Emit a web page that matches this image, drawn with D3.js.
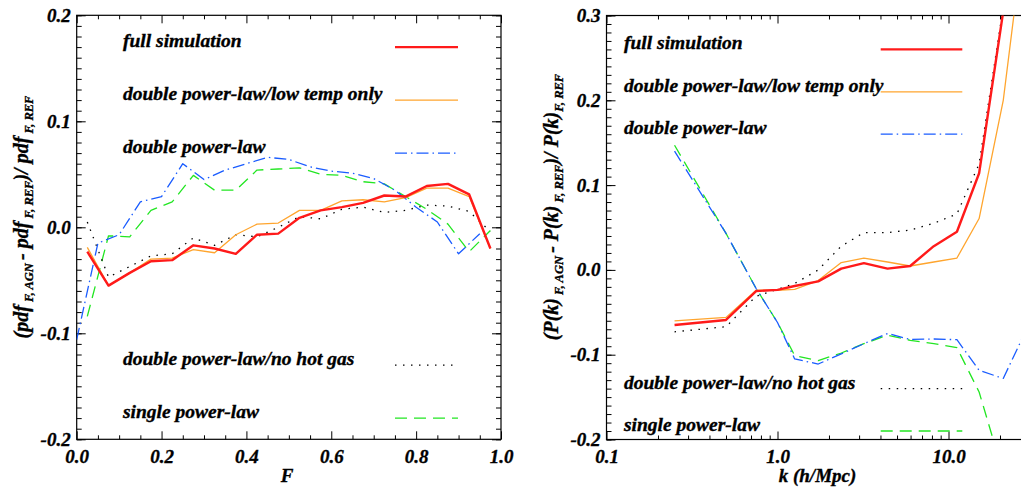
<!DOCTYPE html>
<html>
<head>
<meta charset="utf-8">
<script src="https://cdn.jsdelivr.net/npm/d3@7"></script>
<style>
  body { margin: 0; background: #fff; }
  svg text { font-family: "Liberation Serif", "Times New Roman", serif; font-weight: bold; font-style: italic; fill: #000; stroke: #000; stroke-width: 0.35px; }
</style>
</head>
<body>
<script>
// ---- data: left panel (flux pdf residuals) ----
var fBins    = [0.025, 0.075, 0.125, 0.175, 0.225, 0.275, 0.325, 0.375, 0.425, 0.475,
                0.525, 0.575, 0.625, 0.675, 0.725, 0.775, 0.825, 0.875, 0.925, 0.975];
var fBinsDpl = [0.00, 0.05, 0.10, 0.15, 0.20, 0.25, 0.30, 0.35, 0.40, 0.45,
                0.50, 0.55, 0.60, 0.65, 0.70, 0.75, 0.80, 0.85, 0.90, 0.95];

var pdfFull    = [-0.023, -0.055, -0.043, -0.032, -0.031, -0.017, -0.020, -0.025, -0.007, -0.006,
                   0.009,  0.016,  0.019,  0.023,  0.030,  0.029,  0.039,  0.041,  0.031, -0.020];
var pdfLowTemp = [-0.019, -0.055, -0.043, -0.030, -0.029, -0.021, -0.024, -0.007,  0.003,  0.004,
                   0.016,  0.016,  0.025,  0.026,  0.024,  0.028,  0.037,  0.037,  0.029, -0.020];
var pdfDpl     = [-0.106, -0.015, -0.007,  0.024,  0.029,  0.060,  0.045,  0.054,  0.060,  0.066,
                   0.064,  0.057,  0.053,  0.051,  0.046,  0.035,  0.019,  0.005, -0.025, -0.006];
var pdfNoHot   = [ 0.005, -0.047, -0.037, -0.027, -0.025, -0.010, -0.017, -0.007, -0.009,  0.000,
                   0.010,  0.008,  0.017,  0.019,  0.014,  0.016,  0.021,  0.020,  0.015, -0.004];
var pdfSingle  = [-0.084, -0.008, -0.009,  0.016,  0.024,  0.049,  0.035,  0.035,  0.054,  0.055,
                   0.056,  0.050,  0.049,  0.043,  0.041,  0.029,  0.017,  0.003, -0.023, -0.003];

// ---- data: right panel (flux power spectrum residuals) ----
var kBins = [0.25, 0.5, 0.75, 1.0, 1.26, 1.73, 2.36, 3.2, 4.4, 5.97, 8.2, 11.2, 15.1, 20.9, 28.6];

var pkFull    = [-0.065, -0.059, -0.025, -0.0235, -0.019, -0.0135, 0.0015, 0.008, 0.0015, 0.0046, 0.028, 0.045, 0.114, 0.305, 0.60];
var pkLowTemp = [-0.060, -0.056, -0.024, -0.024, -0.023, -0.0126, 0.0086, 0.014, 0.0093, 0.0046, 0.0093, 0.014, 0.0606, 0.20, 0.42];
var pkDpl     = [ 0.140,  0.043, -0.022, -0.062, -0.105, -0.111, -0.099, -0.087, -0.075, -0.082, -0.0815, -0.0823, -0.1185, -0.128, -0.070];
var pkNoHot   = [-0.073, -0.067, -0.031, -0.023, -0.016,  0.000,  0.028,  0.044,  0.044,  0.047,  0.055,  0.066,  0.125,  0.31,  0.60];
var pkSingle  = [ 0.147,  0.043, -0.022, -0.062, -0.101, -0.107, -0.098, -0.087, -0.077, -0.083, -0.087, -0.0917, -0.144, -0.24, -0.35];

var legendLabels = ["full simulation", "double power-law/low temp only", "double power-law",
                    "double power-law/no hot gas", "single power-law"];

// tick values
var fTicks     = [0.0, 0.2, 0.4, 0.6, 0.8, 1.0];
var fMinor     = [0.05, 0.1, 0.15, 0.25, 0.3, 0.35, 0.45, 0.5, 0.55, 0.65, 0.7, 0.75, 0.85, 0.9, 0.95];
var pdfTicks   = [-0.2, -0.1, 0.0, 0.1, 0.2];
var kTicks     = [0.1, 1.0, 10.0];
var kMinor     = [0.2, 0.3, 0.4, 0.5, 0.6, 0.7, 0.8, 0.9, 2, 3, 4, 5, 6, 7, 8, 9, 20, 30];
var pkTicks    = [-0.2, -0.1, 0.0, 0.1, 0.2, 0.3];

/*
* styles (same order as legendLabels)
*/
var styles = [
  { color: "#ff1a1a", width: 2.4, dash: null },
  { color: "#ffa52e", width: 1.3, dash: null },
  { color: "#1a5cff", width: 1.3, dash: "12,4,1.5,4" },
  { color: "#000000", width: 1.3, dash: "1.5,6.5" },
  { color: "#22e622", width: 1.3, dash: "12,7" }
];

var W = 1021, H = 487;
var svg = d3.select("body").append("svg")
  .attr("width", W)
  .attr("height", H);

var fmt = function (d) { return d3.format(".1f")(d).replace("\u2212", "-"); };

function minorRange(lo, hi, step) {
  // ticks every step between lo and hi (used for 0.01 y minor ticks)
  var out = [];
  var n = Math.round((hi - lo) / step);
  for (var i = 0; i <= n; i++) out.push(+(lo + i * step).toFixed(4));
  return out;
}

function styleText(sel, size) {
  sel.attr("font-family", null).attr("font-size", null);
  sel.selectAll("text")
    .style("font-size", size + "px");
}

function drawPanel(p) {
  var g = svg.append("g").attr("transform", "translate(" + p.x0 + "," + p.y0 + ")");
  var w = p.x1 - p.x0, h = p.y1 - p.y0;
  var xs = p.xScale.range([0, w]);
  var ys = d3.scaleLinear().domain(p.yDomain).range([h, 0]);

  var clipId = "clip" + p.id;
  g.append("clipPath").attr("id", clipId)
    .append("rect").attr("width", w).attr("height", h);

  // ticks (inward, on all four sides)
  var yMinor = minorRange(p.yDomain[0], p.yDomain[1], 0.01);
  var axes = [
    [d3.axisBottom(xs).tickValues(p.xTicks).tickSize(-8).tickPadding(10).tickFormat(fmt), "translate(0," + h + ")"],
    [d3.axisBottom(xs).tickValues(p.xMinor).tickSize(-4).tickFormat(""), "translate(0," + h + ")"],
    [d3.axisTop(xs).tickValues(p.xTicks).tickSize(-8).tickFormat(""), null],
    [d3.axisTop(xs).tickValues(p.xMinor).tickSize(-4).tickFormat(""), null],
    [d3.axisLeft(ys).tickValues(p.yTicks).tickSize(-9).tickPadding(6).tickFormat(fmt), null],
    [d3.axisLeft(ys).tickValues(yMinor).tickSize(-5).tickFormat(""), null],
    [d3.axisRight(ys).tickValues(p.yTicks).tickSize(-9).tickFormat(""), "translate(" + w + ",0)"],
    [d3.axisRight(ys).tickValues(yMinor).tickSize(-5).tickFormat(""), "translate(" + w + ",0)"]
  ];
  axes.forEach(function (a) {
    var ag = g.append("g");
    if (a[1]) ag.attr("transform", a[1]);
    ag.call(a[0]);
    ag.select(".domain").remove();
    ag.selectAll("line").attr("stroke", "#000").attr("stroke-width", 1);
    styleText(ag, 19);
  });

  g.append("rect")
    .attr("width", w).attr("height", h)
    .attr("fill", "none").attr("stroke", "#000").attr("stroke-width", 1.2);

  // curves
  var line = d3.line()
    .x(function (d) { return xs(d[0]); })
    .y(function (d) { return ys(d[1]); });

  var cg = g.append("g").attr("clip-path", "url(#" + clipId + ")");
  // draw in reverse so the red full simulation sits on top
  p.series.slice().reverse().forEach(function (s) {
    var st = styles[s.style];
    cg.append("path")
      .datum(d3.zip(s.x, s.y))
      .attr("d", line)
      .attr("fill", "none")
      .attr("stroke", st.color)
      .attr("stroke-width", st.width)
      .attr("stroke-dasharray", st.dash)
      .attr("stroke-linejoin", "round");
  });

  // legend
  legendLabels.forEach(function (lab, i) {
    var st = styles[i];
    var yy = ys(p.legendY[i]);
    g.append("text")
      .attr("x", p.legendTextX)
      .attr("y", yy)
      .style("font-size", "19.5px")
      .text(lab);
    g.append("line")
      .attr("x1", p.legendLine[0]).attr("x2", p.legendLine[1])
      .attr("y1", yy).attr("y2", yy)
      .attr("stroke", st.color)
      .attr("stroke-width", st.width)
      .attr("stroke-dasharray", st.dash);
  });

  // x title
  g.append("text")
    .attr("x", p.xTitleX)
    .attr("y", p.xTitleY)
    .attr("text-anchor", "middle")
    .style("font-size", "19px")
    .text(p.xTitle);

  // y title with subscripts
  var t = svg.append("text")
    .attr("transform", "translate(" + p.yTitlePos[0] + "," + p.yTitlePos[1] + ") rotate(-90)")
    .attr("text-anchor", "middle")
    .style("font-size", "20px");
  p.yTitle.forEach(function (part, i) {
    var prevSub = i > 0 && p.yTitle[i - 1].sub;
    t.append("tspan")
      .attr("dy", part.sub ? 5 : (prevSub ? -5 : 0))
      .style("font-size", part.sub ? "12.5px" : "20px")
      .text(part.t);
  });
}

drawPanel({
  id: "L",
  x0: 76.7, x1: 501, y0: 15.3, y1: 439.3,
  xScale: d3.scaleLinear().domain([0, 1]),
  yDomain: [-0.2, 0.2],
  xTicks: fTicks, xMinor: fMinor, yTicks: pdfTicks,
  series: [
    { x: fBins, y: pdfFull, style: 0 },
    { x: fBins, y: pdfLowTemp, style: 1 },
    { x: fBinsDpl, y: pdfDpl, style: 2 },
    { x: fBins, y: pdfNoHot, style: 3 },
    { x: fBins, y: pdfSingle, style: 4 }
  ],
  legendY: [0.17, 0.12, 0.07, -0.13, -0.18],
  legendTextX: 46.3,
  legendLine: [318.3, 381.3],
  xTitle: "F", xTitleX: 210.3, xTitleY: 466.5,
  yTitlePos: [28, 217],
  yTitle: [
    { t: "(pdf" }, { t: "\u00a0F, AGN\u00a0", sub: true },
    { t: "- pdf" }, { t: "\u00a0F, REF", sub: true },
    { t: ")/ pdf" }, { t: "\u00a0F, REF", sub: true }
  ]
});

drawPanel({
  id: "R",
  x0: 606.5, x1: 1030.1, y0: 15.5, y1: 439.5,
  xScale: d3.scaleLog().domain([0.1, 30]),
  yDomain: [-0.2, 0.3],
  xTicks: kTicks, xMinor: kMinor, yTicks: pkTicks,
  series: [
    { x: kBins, y: pkFull, style: 0 },
    { x: kBins, y: pkLowTemp, style: 1 },
    { x: kBins, y: pkDpl, style: 2 },
    { x: kBins, y: pkNoHot, style: 3 },
    { x: kBins, y: pkSingle, style: 4 }
  ],
  legendY: [0.26, 0.21, 0.16, -0.14, -0.19],
  legendTextX: 17.5,
  legendLine: [274.2, 355.8],
  xTitle: "k (h/Mpc)", xTitleX: 211, xTitleY: 466,
  yTitlePos: [558, 207],
  yTitle: [
    { t: "(P(k)" }, { t: "\u00a0F, AGN\u00a0", sub: true },
    { t: "- P(k)" }, { t: "\u00a0F, REF", sub: true },
    { t: ")/ P(k)" }, { t: "F, REF", sub: true }
  ]
});
</script>
</body>
</html>
